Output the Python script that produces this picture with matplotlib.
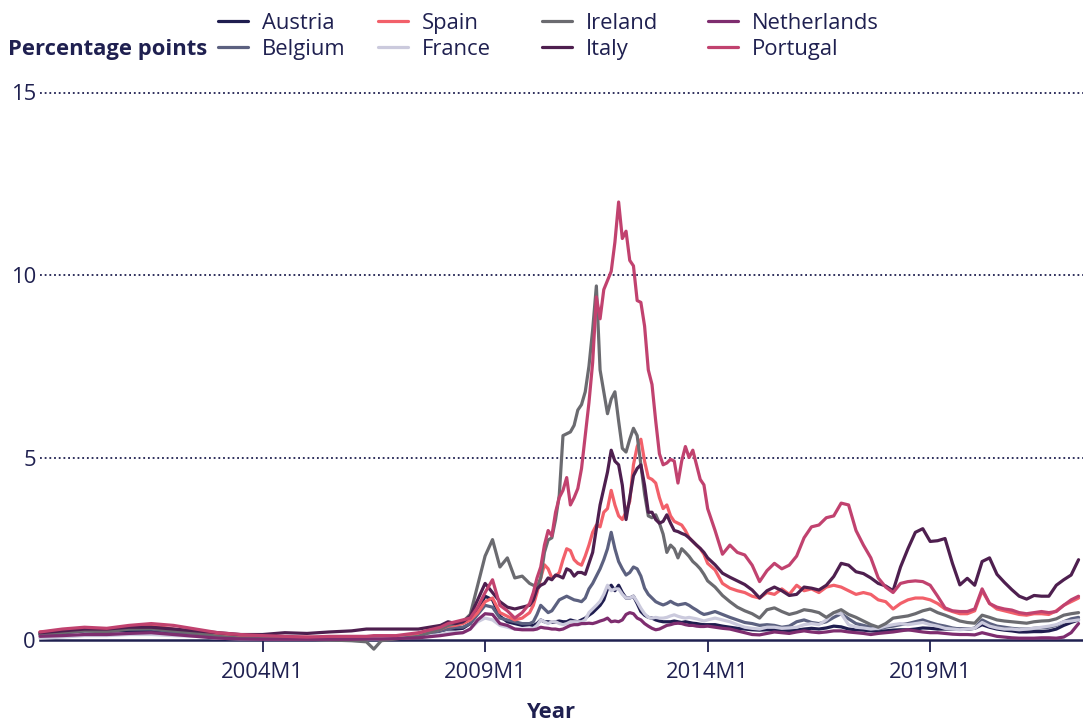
import matplotlib
matplotlib.use("Agg")
import matplotlib.pyplot as plt

plt.rcParams['font.family'] = ['Open Sans', 'DejaVu Sans']

# Month index counted from 1999M1 (0 = 1999M1)
month_index = ([0, 6, 12, 18, 24, 30, 36, 42, 48, 54, 60, 66, 72, 78, 84, 88, 90, 92, 96, 102]
               + list(range(108, 131, 2))
               + list(range(132, 180))
               + list(range(180, 281, 2)))

tick_months = [60, 120, 180, 240]
tick_labels = ['2004M1', '2009M1', '2014M1', '2019M1']
y_ticks = [0, 5, 10, 15]

austria = [0.15, 0.2, 0.25, 0.25, 0.25, 0.25, 0.2, 0.15, 0.1, 0.06, 0.05, 0.04, 0.04, 0.03, 0.03, 0.04, 0.04, 0.04, 0.06, 0.1,
           0.25, 0.3, 0.3, 0.32, 0.45, 0.8, 1.2, 1.1, 0.65, 0.5, 0.45, 0.4,
           0.42, 0.4, 0.45, 0.55, 0.5, 0.5, 0.48, 0.5, 0.52, 0.5, 0.5, 0.55,
           0.52, 0.5, 0.55, 0.6, 0.68, 0.75, 0.85, 0.95, 1.1, 1.4, 1.5, 1.35,
           1.5, 1.3, 1.15, 1.15, 1.2, 1.0, 0.78, 0.68, 0.62, 0.6, 0.55, 0.52,
           0.5, 0.5, 0.5, 0.52, 0.5, 0.48, 0.5, 0.48, 0.46, 0.45, 0.43, 0.42,
           0.42, 0.42, 0.38, 0.35, 0.32, 0.3, 0.28, 0.27, 0.28, 0.28,
           0.27, 0.26, 0.27, 0.3, 0.32, 0.3, 0.33, 0.38, 0.36, 0.3,
           0.28, 0.27, 0.25, 0.24, 0.25, 0.27, 0.28, 0.28, 0.3, 0.33,
           0.32, 0.3, 0.3, 0.3, 0.3, 0.3, 0.32, 0.42, 0.35, 0.3,
           0.27, 0.25, 0.22, 0.22, 0.23, 0.23, 0.25, 0.3, 0.4, 0.48,
           0.55]

belgium = [0.18, 0.22, 0.28, 0.28, 0.3, 0.3, 0.22, 0.18, 0.12, 0.08, 0.08, 0.05, 0.05, 0.04, 0.04, 0.05, 0.05, 0.05, 0.08, 0.12,
           0.25, 0.3, 0.35, 0.35, 0.45, 0.7, 0.95, 0.9, 0.6, 0.55, 0.5, 0.45,
           0.45, 0.5, 0.7, 0.95, 0.85, 0.75, 0.8, 0.95, 1.1, 1.15, 1.2, 1.15,
           1.1, 1.08, 1.05, 1.15, 1.4, 1.55, 1.75, 1.95, 2.2, 2.5, 2.95, 2.5,
           2.15, 1.95, 1.78, 1.85, 2.0, 1.95, 1.75, 1.42, 1.25, 1.15, 1.05, 1.0,
           0.96, 1.0, 1.06, 1.0, 0.96, 0.98, 1.0, 0.95, 0.88, 0.82, 0.75, 0.7,
           0.72, 0.78, 0.7, 0.62, 0.55, 0.48, 0.45, 0.4, 0.42, 0.4,
           0.35, 0.38, 0.5, 0.55, 0.48, 0.45, 0.5, 0.62, 0.72, 0.58,
           0.45, 0.4, 0.35, 0.3, 0.35, 0.38, 0.42, 0.45, 0.5, 0.55,
           0.48, 0.42, 0.38, 0.33, 0.3, 0.3, 0.32, 0.55, 0.45, 0.38,
           0.35, 0.32, 0.3, 0.3, 0.32, 0.33, 0.35, 0.4, 0.5, 0.58,
           0.62]

spain = [0.22, 0.25, 0.3, 0.3, 0.35, 0.4, 0.3, 0.2, 0.12, 0.1, 0.1, 0.08, 0.08, 0.06, 0.06, 0.05, 0.05, 0.05, 0.08, 0.15,
         0.3, 0.38, 0.4, 0.45, 0.55, 0.75, 1.05, 1.15, 0.75, 0.65, 0.55, 0.6,
         0.75, 0.95, 1.3, 1.7, 2.06, 1.95, 1.7, 1.75, 1.85, 2.2, 2.5, 2.45,
         2.2, 2.1, 2.05, 2.3, 2.6, 2.95, 3.15, 3.1, 3.5, 3.6, 4.1, 3.7,
         3.4, 3.3, 3.5, 3.8, 4.8, 5.3, 5.5, 4.9, 4.45, 4.4, 4.3, 3.9,
         3.6, 3.7, 3.4, 3.25, 3.2, 3.15, 3.0, 2.8, 2.7, 2.6, 2.5, 2.35,
         2.1, 1.92, 1.55, 1.42, 1.35, 1.3, 1.2, 1.15, 1.3, 1.25,
         1.4, 1.25, 1.5, 1.35, 1.4, 1.3, 1.45, 1.5, 1.45, 1.35,
         1.25, 1.3, 1.25, 1.1, 1.05, 0.85, 1.0, 1.1, 1.15, 1.15,
         1.1, 1.0, 0.85, 0.78, 0.72, 0.72, 0.8, 1.35, 1.0, 0.85,
         0.8, 0.75, 0.7, 0.68, 0.72, 0.72, 0.7, 0.8, 0.95, 1.05,
         1.15]

france = [0.05, 0.08, 0.12, 0.12, 0.15, 0.15, 0.12, 0.1, 0.05, 0.03, 0.03, 0.02, 0.02, 0.01, 0.02, 0.03, 0.03, 0.03, 0.05, 0.08,
          0.15, 0.2, 0.2, 0.2, 0.3, 0.5, 0.6, 0.55, 0.4, 0.35, 0.3, 0.3,
          0.3, 0.32, 0.4, 0.55, 0.5, 0.45, 0.5, 0.5, 0.45, 0.42, 0.45, 0.5,
          0.5, 0.5, 0.5, 0.55, 0.75, 0.85, 0.95, 1.06, 1.25, 1.5, 1.35, 1.4,
          1.4, 1.25, 1.15, 1.15, 1.2, 1.05, 0.87, 0.72, 0.62, 0.6, 0.62, 0.6,
          0.6, 0.62, 0.66, 0.69, 0.65, 0.62, 0.6, 0.62, 0.6, 0.58, 0.55, 0.52,
          0.55, 0.6, 0.55, 0.5, 0.42, 0.35, 0.32, 0.3, 0.35, 0.35,
          0.32, 0.33, 0.35, 0.42, 0.45, 0.42, 0.55, 0.75, 0.72, 0.42,
          0.35, 0.33, 0.3, 0.32, 0.38, 0.42, 0.45, 0.42, 0.45, 0.48,
          0.42, 0.38, 0.32, 0.3, 0.28, 0.3, 0.32, 0.48, 0.38, 0.33,
          0.3, 0.3, 0.28, 0.3, 0.32, 0.35, 0.38, 0.42, 0.5, 0.52,
          0.55]

ireland = [0.15, 0.2, 0.25, 0.22, 0.3, 0.32, 0.25, 0.18, 0.1, 0.05, 0.05, 0.03, 0.02, 0.0, -0.02, -0.05, -0.25, -0.02, 0.03, 0.1,
           0.3, 0.4, 0.45, 0.5, 0.7, 1.5, 2.3, 2.75, 2.0, 2.25, 1.7, 1.75,
           1.55, 1.5, 1.45, 1.7, 2.4, 2.74, 2.8, 3.3, 3.97, 5.6, 5.65, 5.7,
           5.88, 6.3, 6.45, 6.8, 7.5, 8.5, 9.7, 7.4, 6.8, 6.2, 6.6, 6.8,
           6.0, 5.25, 5.15, 5.5, 5.8, 5.6, 4.8, 4.0, 3.4, 3.35, 3.43, 3.2,
           2.9, 2.4, 2.6, 2.5, 2.25, 2.5, 2.4, 2.29, 2.15, 2.06, 1.95, 1.8,
           1.62, 1.45, 1.22, 1.05, 0.9, 0.8, 0.72, 0.6, 0.83, 0.88,
           0.78, 0.7, 0.75, 0.83, 0.8, 0.75, 0.62, 0.75, 0.83, 0.7,
           0.62, 0.52, 0.42, 0.35, 0.45, 0.6, 0.63, 0.66, 0.72, 0.8,
           0.85, 0.75, 0.68, 0.6, 0.52, 0.48, 0.46, 0.68, 0.62, 0.55,
           0.52, 0.5, 0.48, 0.46, 0.5, 0.52, 0.53, 0.58, 0.68, 0.72,
           0.75]

italy = [0.2, 0.25, 0.3, 0.3, 0.35, 0.35, 0.3, 0.25, 0.2, 0.15, 0.15, 0.2, 0.18, 0.22, 0.25, 0.3, 0.3, 0.3, 0.3, 0.3,
         0.4, 0.5, 0.45, 0.5, 0.65, 1.1, 1.55, 1.3, 1.05, 0.9, 0.85, 0.9,
         0.95, 1.1, 1.4, 1.5, 1.55, 1.7, 1.65, 1.78, 1.75, 1.7, 1.95, 1.9,
         1.75, 1.85, 1.85, 1.8, 2.1, 2.4, 3.06, 3.7, 4.15, 4.6, 5.2, 4.9,
         4.8, 4.24, 3.3, 3.9, 4.5, 4.7, 4.8, 4.24, 3.5, 3.5, 3.3, 3.2,
         3.25, 3.43, 3.2, 3.0, 2.97, 2.92, 2.88, 2.8, 2.7, 2.6, 2.51, 2.4,
         2.25, 2.06, 1.83, 1.72, 1.62, 1.52, 1.37, 1.15, 1.35, 1.45,
         1.35, 1.22, 1.25, 1.45, 1.42, 1.37, 1.5, 1.74, 2.1, 2.05,
         1.87, 1.82, 1.7, 1.55, 1.48, 1.35, 2.0, 2.5, 2.95, 3.05,
         2.7, 2.72, 2.78, 2.1, 1.51, 1.69, 1.5, 2.15, 2.25, 1.8,
         1.58, 1.38, 1.2, 1.12, 1.22, 1.2, 1.2, 1.5, 1.65, 1.78,
         2.2]

netherlands = [0.1, 0.12, 0.15, 0.15, 0.18, 0.2, 0.15, 0.1, 0.05, 0.03, 0.02, 0.02, 0.02, 0.02, 0.02, 0.03, 0.03, 0.03, 0.04, 0.06,
               0.12, 0.15, 0.18, 0.2, 0.3, 0.55, 0.72, 0.7, 0.45, 0.4, 0.3, 0.28,
               0.28, 0.28, 0.3, 0.35, 0.33, 0.32, 0.3, 0.3, 0.28, 0.3, 0.35, 0.4,
               0.42, 0.42, 0.45, 0.45, 0.46, 0.45, 0.48, 0.52, 0.55, 0.6, 0.5, 0.52,
               0.5, 0.55, 0.7, 0.75, 0.72, 0.6, 0.55, 0.45, 0.38, 0.32, 0.28, 0.3,
               0.35, 0.4, 0.42, 0.45, 0.46, 0.45, 0.42, 0.4, 0.4, 0.38, 0.37, 0.37,
               0.38, 0.35, 0.32, 0.3, 0.25, 0.2, 0.15, 0.14, 0.18, 0.22,
               0.2, 0.18, 0.22, 0.25, 0.22, 0.2, 0.22, 0.25, 0.25, 0.22,
               0.2, 0.18, 0.15, 0.18, 0.2, 0.22, 0.25, 0.28, 0.25, 0.22,
               0.2, 0.2, 0.18, 0.16, 0.15, 0.15, 0.14, 0.2, 0.15, 0.1,
               0.08, 0.06, 0.05, 0.05, 0.05, 0.06, 0.06, 0.05, 0.08, 0.2,
               0.45]

portugal = [0.22, 0.3, 0.35, 0.32, 0.4, 0.45, 0.4, 0.3, 0.2, 0.15, 0.12, 0.1, 0.08, 0.1, 0.1, 0.1, 0.12, 0.12, 0.12, 0.2,
            0.35, 0.45, 0.5, 0.55, 0.6, 0.9, 1.3, 1.65, 0.95, 0.8, 0.6, 0.75,
            1.0, 1.3, 1.7, 2.0, 2.6, 3.0, 2.85, 3.5, 3.9, 4.1, 4.45, 3.7,
            3.9, 4.15, 4.7, 5.6, 6.5, 7.6, 9.4, 8.8, 9.6, 9.85, 10.1, 10.9,
            12.0, 11.0, 11.2, 10.4, 10.25, 9.3, 9.25, 8.6, 7.4, 7.0, 6.0, 5.1,
            4.8, 4.85, 4.95, 4.9, 4.3, 4.9, 5.3, 5.0, 5.2, 4.8, 4.4, 4.25,
            3.6, 3.0, 2.35, 2.6, 2.4, 2.33, 2.05, 1.6, 1.9, 2.1,
            1.95, 2.05, 2.3, 2.8, 3.1, 3.15, 3.35, 3.4, 3.75, 3.7,
            3.0, 2.6, 2.25, 1.7, 1.45, 1.3, 1.55, 1.6, 1.62, 1.6,
            1.5, 1.2, 0.88, 0.8, 0.78, 0.78, 0.85, 1.4, 1.0, 0.9,
            0.85, 0.82, 0.75, 0.72, 0.75, 0.78, 0.75, 0.78, 0.95, 1.1,
            1.2]

country_names = ['Austria', 'Belgium', 'Spain', 'France', 'Ireland', 'Italy', 'Netherlands', 'Portugal']
country_values = [austria, belgium, spain, france, ireland, italy, netherlands, portugal]
country_colors = ['#1f1d4f', '#5c6180', '#f2606a', '#cbcadd', '#6b6b70', '#4e1f4f', '#7e2d6f', '#c1426f']

NAVY = '#1f2050'
W, H = 1083, 726
FS = 15.8

fig = plt.figure(figsize=(W / 100, H / 100), dpi=100)
x0_px, zero_px, ppu = 40.0, 640.0, 36.5
ymin, ymax = -0.5, 15.0
xmin, xmax = 0.0, 281.2
bottom_px = zero_px - ymin * ppu
top_px = zero_px - ymax * ppu
ax = fig.add_axes([x0_px / W, (H - bottom_px) / H, (W - x0_px) / W, (bottom_px - top_px) / H])
ax.set_xlim(xmin, xmax)
ax.set_ylim(ymin, ymax)

for yv in y_ticks[1:]:
    ax.axhline(yv, color=NAVY, linestyle=(0, (1, 1.6)), linewidth=1.3, zorder=1, clip_on=False)

handles = {}
for name, vals, col in zip(country_names, country_values, country_colors):
    ln, = ax.plot(month_index, vals, color=col, linewidth=2.3, solid_joinstyle='round',
                  solid_capstyle='round', zorder=3, label=name, clip_on=False)
    handles[name] = ln

for s in ['top', 'right', 'left']:
    ax.spines[s].set_visible(False)
ax.spines['bottom'].set_position(('data', 0))
ax.spines['bottom'].set_color(NAVY)
ax.spines['bottom'].set_linewidth(1.8)
ax.spines['bottom'].set_zorder(2)

ax.set_xticks(tick_months)
ax.set_xticklabels(tick_labels)
ax.tick_params(axis='x', direction='out', length=8.5, width=1.3, color=NAVY,
               labelsize=FS, labelcolor=NAVY, pad=7)
ax.set_yticks(y_ticks)
ax.set_yticklabels([str(v) for v in y_ticks])
ax.tick_params(axis='y', length=0, labelsize=FS, labelcolor=NAVY, pad=3)

fig.text(552 / W, 1 - 713 / H, 'Year', ha='center', va='center', fontsize=FS,
         fontweight='bold', color=NAVY)
fig.text(8 / W, 1 - 50 / H, 'Percentage points', ha='left', va='center', fontsize=FS,
         fontweight='bold', color=NAVY)

legend_columns = [(['Austria', 'Belgium'], 218), (['Spain', 'France'], 378),
                  (['Ireland', 'Italy'], 542), (['Netherlands', 'Portugal'], 708)]
for labels, xpx in legend_columns:
    leg = fig.legend([handles[l] for l in labels], labels, loc='upper left',
                     bbox_to_anchor=(xpx / W, 1 - 13 / H), frameon=False, borderpad=0,
                     borderaxespad=0, handlelength=30 / 22, handletextpad=14 / 22,
                     labelspacing=0.23, fontsize=FS, labelcolor=NAVY)
    for lh in leg.get_lines():
        lh.set_linewidth(2.3)

fig.savefig('out.png', dpi=100)
